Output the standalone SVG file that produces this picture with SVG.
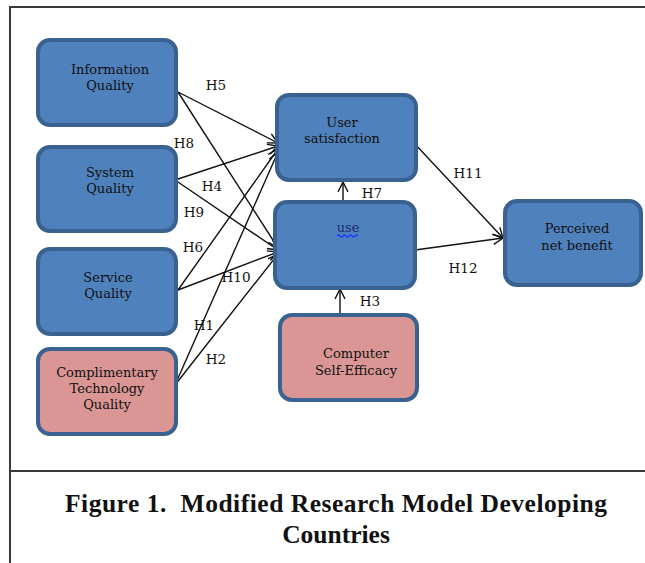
<svg xmlns="http://www.w3.org/2000/svg" width="645" height="563" viewBox="0 0 645 563">
  <style>
    .frame { stroke: #3a3a3a; stroke-width: 2; fill: none; }
    .blue { fill: #4f81bd; stroke: #3a6291; stroke-width: 4; }
    .pink { fill: #d99694; stroke: #3a6291; stroke-width: 4; }
    .nt { font-family: "DejaVu Serif", "Liberation Serif", serif; font-size: 13px; fill: #111; text-anchor: middle; }
    .lab { font-family: "DejaVu Serif", "Liberation Serif", serif; font-size: 13.5px; fill: #111; text-anchor: middle; }
    .edge { stroke: #111; stroke-width: 1.4; fill: none; marker-end: url(#arr); }
    .cap { font-family: "Liberation Serif", "Times New Roman", serif; font-weight: bold; font-size: 25.5px; fill: #111; text-anchor: middle; }
  </style>
  <defs>
    <marker id="arr" viewBox="0 0 12 12" refX="11" refY="6" markerWidth="12" markerHeight="12" markerUnits="userSpaceOnUse" orient="auto">
      <path d="M1,1 L11,6 L1,11" fill="none" stroke="#111" stroke-width="1.4"/>
    </marker>
  </defs>
  <rect width="645" height="563" fill="#ffffff"/>
  <g id="frame">
    <line class="frame" x1="10" y1="7" x2="645" y2="7"/>
    <line class="frame" x1="10" y1="6" x2="10" y2="563"/>
    <line class="frame" x1="10" y1="471" x2="645" y2="471"/>
  </g>
  <g id="connectors">
    <line class="edge" x1="178" y1="92" x2="278" y2="143"/>
    <line class="edge" x1="178" y1="92" x2="278" y2="248"/>
    <line class="edge" x1="175" y1="180" x2="278" y2="146"/>
    <line class="edge" x1="175" y1="180" x2="278" y2="250"/>
    <line class="edge" x1="178" y1="290" x2="278" y2="149"/>
    <line class="edge" x1="178" y1="290" x2="278" y2="252"/>
    <line class="edge" x1="175" y1="385" x2="278" y2="152"/>
    <line class="edge" x1="175" y1="385" x2="278" y2="254"/>
    <line class="edge" x1="343" y1="202" x2="343" y2="182"/>
    <line class="edge" x1="340" y1="314" x2="340" y2="289"/>
    <line class="edge" x1="414" y1="143" x2="503" y2="238"/>
    <line class="edge" x1="415" y1="250" x2="503" y2="238"/>
    <text class="lab" x="216" y="90">H5</text>
    <text class="lab" x="184" y="148">H8</text>
    <text class="lab" x="212" y="191">H4</text>
    <text class="lab" x="194" y="217">H9</text>
    <text class="lab" x="193" y="252">H6</text>
    <text class="lab" x="236" y="282">H10</text>
    <text class="lab" x="204" y="330">H1</text>
    <text class="lab" x="216" y="364">H2</text>
    <text class="lab" x="372" y="198">H7</text>
    <text class="lab" x="370" y="306">H3</text>
    <text class="lab" x="468" y="178">H11</text>
    <text class="lab" x="463" y="273">H12</text>
  </g>
  <g id="information-quality">
    <rect class="blue" x="38" y="40" width="138" height="85" rx="12"/>
    <text class="nt" x="110" y="74">Information</text>
    <text class="nt" x="110" y="90">Quality</text>
  </g>
  <g id="system-quality">
    <rect class="blue" x="38" y="147" width="138" height="84" rx="12"/>
    <text class="nt" x="110" y="177">System</text>
    <text class="nt" x="110" y="193">Quality</text>
  </g>
  <g id="service-quality">
    <rect class="blue" x="38" y="249" width="138" height="85" rx="12"/>
    <text class="nt" x="108" y="282">Service</text>
    <text class="nt" x="108" y="298">Quality</text>
  </g>
  <g id="complimentary-technology-quality">
    <rect class="pink" x="38" y="349" width="138" height="85" rx="12"/>
    <text class="nt" x="107" y="377">Complimentary</text>
    <text class="nt" x="107" y="393">Technology</text>
    <text class="nt" x="107" y="409">Quality</text>
  </g>
  <g id="user-satisfaction">
    <rect class="blue" x="277" y="95" width="139" height="85" rx="12"/>
    <text class="nt" x="342" y="127">User</text>
    <text class="nt" x="342" y="143">satisfaction</text>
  </g>
  <g id="use">
    <rect class="blue" x="275" y="202" width="140" height="86" rx="12"/>
    <text class="nt" x="348" y="232" style="fill:#1a2a6b">use</text>
    <path d="M337,236 q1.5,-2 3,0 t3,0 t3,0 t3,0 t3,0 t3,0 t3,0" fill="none" stroke="#1f3cff" stroke-width="1.5"/>
  </g>
  <g id="computer-self-efficacy">
    <rect class="pink" x="280" y="315" width="137" height="85" rx="12"/>
    <text class="nt" x="356" y="358">Computer</text>
    <text class="nt" x="356" y="375">Self-Efficacy</text>
  </g>
  <g id="perceived-net-benefit">
    <rect class="blue" x="505" y="201" width="136" height="84" rx="12"/>
    <text class="nt" x="577" y="233">Perceived</text>
    <text class="nt" x="577" y="250">net benefit</text>
  </g>
  <g id="caption">
    <text class="cap" x="336" y="512" textLength="542" lengthAdjust="spacing" xml:space="preserve">Figure 1.  Modified Research Model Developing</text>
    <text class="cap" x="336" y="543">Countries</text>
  </g>
</svg>
